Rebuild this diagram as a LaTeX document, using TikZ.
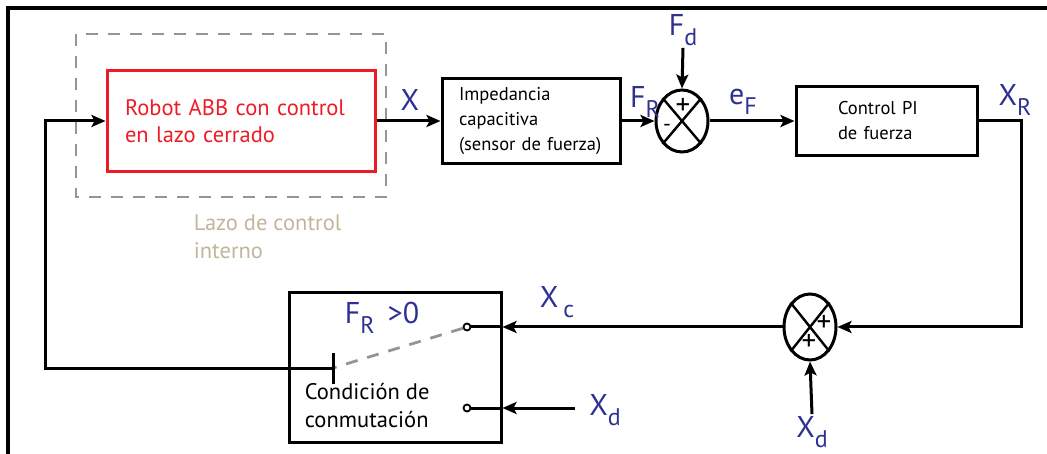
\documentclass[tikz,border=0pt]{standalone}
\usepackage{fontspec}
\setmainfont{PT Sans}
\usetikzlibrary{shapes.geometric,arrows.meta,positioning,calc}
\definecolor{azul}{RGB}{46,49,146}
\definecolor{rojo}{RGB}{237,28,36}
\definecolor{arena}{RGB}{194,181,155}
\definecolor{gris}{RGB}{147,149,152}
\newcommand{\subi}[1]{\raisebox{-0.32em}{\fontsize{24}{24}\selectfont #1}}
\begin{document}
\begin{tikzpicture}[x=1pt,y=-1pt,line width=3pt,
    bloque/.style={draw, rectangle, line width=3pt, align=left},
    suma/.style={draw, ellipse, line width=3pt, minimum width=52pt, minimum height=#1, inner sep=0pt},
    senal/.style={text=azul, inner sep=1pt, font=\fontsize{30}{30}\selectfont},
    signo/.style={inner sep=0pt, font=\fontsize{29}{29}\selectfont},
    flecha/.style={-{Stealth[length=14pt,width=12pt,inset=3pt]}},
    borne/.style={draw, circle, fill=white, minimum size=7pt, inner sep=0pt, line width=1.8pt}]
    \useasboundingbox (0,0) rectangle (1047,454);

    % Marco
    \draw[line width=3.5pt] (8,454) -- (8,8) -- (1047,8);

    % Lazo de control interno
    \draw[gris, line width=2.8pt, dash pattern=on 12pt off 10pt] (76,34) rectangle (386,197);
    \node[bloque, draw=rojo, text=rojo, text width=232pt, minimum height=101pt, inner xsep=18pt,
          font=\fontsize{22.5}{27}\selectfont] (robot) at (241,121) {Robot ABB con control\\en lazo cerrado};
    \node[text=arena, align=left, anchor=north west, font=\fontsize{22.5}{28}\selectfont] (interno) at (189,210) {Lazo de control\\interno};

    % Cadena directa
    \node[bloque, text width=144pt, minimum height=85pt, inner xsep=17pt,
          font=\fontsize{18.5}{25}\selectfont] (imp) at (531,121) {Impedancia\\capacitiva\\(sensor de fuerza)};
    \node[suma=62pt] (s1) at (682,121) {};
    \draw[line width=2.4pt] (s1.north west) -- (s1.south east) (s1.north east) -- (s1.south west);
    \node[signo] at (683,106) {+};
    \node[signo, font=\fontsize{22}{22}\selectfont] at (667,128) {-};
    \node[bloque, text width=97pt, minimum height=69pt, inner xsep=42pt,
          font=\fontsize{18.5}{25}\selectfont] (ctrl) at (886.5,121) {Control PI\\de fuerza};

    \node[senal] (x) at (410,100) {X};
    \node[senal] (fd) at (683,30) {F\subi{d}};
    \node[senal] (fr) at (645,102) {F\subi{R}};
    \node[senal] (ef) at (743,102) {e\subi{F}};
    \node[senal] (xr) at (1015,100) {X\subi{R}};

    \draw[flecha] (robot) -- (imp);
    \draw[flecha] (imp) -- (s1);
    \draw[flecha] (fd.south) -- (s1.north);
    \draw[flecha] (s1) -- (ctrl);

    % Suma de posiciones
    \node[suma=66pt] (s2) at (810,327) {};
    \draw[line width=2.4pt] (s2.north west) -- (s2.south east) (s2.north east) -- (s2.south west);
    \node[signo] at (824,323) {+};
    \node[signo] at (809,342) {+};
    \node[senal] (xd2) at (812,432) {X\subi{d}};
    \draw[flecha] (ctrl.east) -- ++(43,0) |- (s2.east);
    \draw[flecha] (xd2.north) -- (s2.south);

    % Conmutador
    \node[bloque, minimum width=212pt, minimum height=149pt] (conm) at (395,367.5) {};
    \node[borne] (c1) at (467,327) {};
    \node[borne] (c2) at (467,408) {};
    \coordinate (pivote) at (333,368);
    \coordinate (xdent) at (575,408);
    \node[senal] (frc) at (382,318) {F\subi{R} \,>0};
    \node[senal] (xc) at (557,302) {X\,\subi{c}};
    \node[senal] (xd1) at (605,410) {X\subi{d}};
    \node[align=left, anchor=north west, font=\fontsize{22.5}{28}\selectfont] (cond) at (300,378) {Condición de\\conmutación};

    \draw[gris, line width=2.8pt, dash pattern=on 12pt off 10pt] (c1) -- (pivote);
    \draw (pivote) ++(0,-15) -- ++(0,31);
    \draw[flecha] (s2.west) -- (c1 -| conm.east);
    \draw (c1 -| conm.east) -- (c1);
    \draw[flecha] (xdent) -- (c2 -| conm.east);
    \draw (c2 -| conm.east) -- (c2);

    % Realimentacion
    \draw[flecha] (pivote) -- ++(-288,0) |- (robot.west);
\end{tikzpicture}
\end{document}
